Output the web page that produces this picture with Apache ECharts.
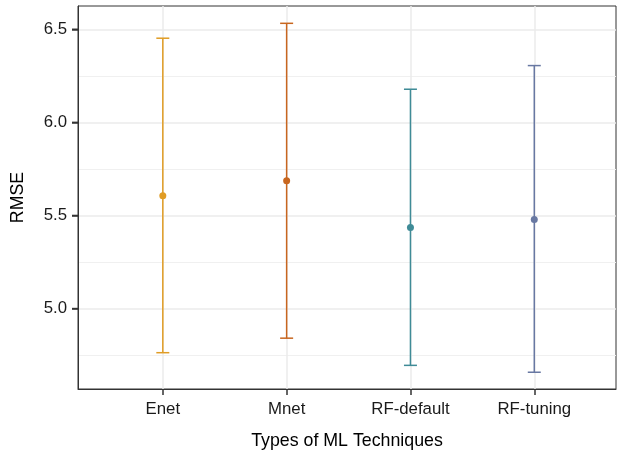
<!DOCTYPE html>
<html>
<head>
<meta charset="utf-8">
<script src="https://cdn.jsdelivr.net/npm/echarts@6/dist/echarts.min.js"></script>
<style>
html,body{margin:0;padding:0;background:#fff;}
#chart{width:617px;height:451px;}
</style>
</head>
<body>
<div id="chart"></div>
<script>
// ---- data ----
const categories = ['Enet', 'Mnet', 'RF-default', 'RF-tuning'];
const meanRMSE  = [5.606, 5.687, 5.435, 5.478];
const lowerRMSE = [4.763, 4.841, 4.695, 4.658];
const upperRMSE = [6.452, 6.532, 6.178, 6.305];
const yTickValues = [5.0, 5.5, 6.0, 6.5];
const yMinorValues = [4.75, 5.25, 5.75, 6.25];
const seriesColors = ['#E09C24', '#C8661F', '#3F8B97', '#6878A2'];

const xIdx = categories.map((c, i) => i);
const font = 'Liberation Sans, Arial, Helvetica, sans-serif';
const tickLen = 6;

const chart = echarts.init(document.getElementById('chart'), null, {renderer: 'canvas'});

const option = {
  animation: false,
  backgroundColor: '#fff',
  grid: {
    left: 78, right: 1, top: 6, bottom: 62,
    containLabel: false,
    outerBoundsMode: 'none',
    show: true, borderColor: '#333333', borderWidth: 1, backgroundColor: 'transparent'
  },
  xAxis: {
    type: 'value',
    min: -0.685, max: 3.66,
    name: 'Types of ML Techniques',
    nameLocation: 'middle',
    nameGap: 43,
    nameTextStyle: {fontFamily: font, fontSize: 17.8, color: '#000'},
    axisLine: {show: true, onZero: false, lineStyle: {color: '#333', width: 1}},
    axisTick: {show: true, length: tickLen, lineStyle: {color: '#333', width: 1.5}, customValues: xIdx},
    axisLabel: {
      customValues: xIdx,
      formatter: v => categories[Math.round(v)],
      fontFamily: font, fontSize: 16.8, color: '#1a1a1a', margin: 12
    },
    splitLine: {show: true, lineStyle: {color: '#EBEBEB', width: 1.5}}
  },
  yAxis: [{
    type: 'value',
    min: 4.568, max: 6.625,
    name: 'RMSE',
    nameLocation: 'middle',
    nameGap: 51,
    nameTextStyle: {fontFamily: font, fontSize: 17.8, color: '#000'},
    axisLine: {show: true, onZero: false, lineStyle: {color: '#333', width: 1}},
    axisTick: {show: true, length: tickLen, lineStyle: {color: '#333', width: 1.5}, customValues: yTickValues},
    axisLabel: {
      customValues: yTickValues,
      formatter: v => v.toFixed(1),
      fontFamily: font, fontSize: 16.8, color: '#1a1a1a', margin: 11
    },
    splitLine: {show: true, lineStyle: {color: '#EBEBEB', width: 1.5}}
  }, {
    type: 'value',
    position: 'left',
    min: 4.568, max: 6.625,
    axisLine: {show: false, onZero: false},
    axisTick: {show: false, customValues: yMinorValues},
    axisLabel: {show: false, customValues: yMinorValues},
    splitLine: {show: true, lineStyle: {color: '#F0F0F0', width: 1}}
  }],
  series: [{
    // y tick marks, drawn through the y scale (guarantees visibility)
    type: 'custom',
    silent: true,
    clip: false,
    z: 5,
    data: yTickValues.map(v => [0, v]),
    renderItem: function (params, api) {
      const y = api.coord([0, api.value(1)])[1];
      const x0 = params.coordSys.x;
      return {type: 'line', shape: {x1: x0 - tickLen, y1: y, x2: x0, y2: y}, style: {stroke: '#333333', lineWidth: 1.5}};
    }
  }, {
    type: 'custom',
    z: 3,
    data: xIdx.map(i => [i, lowerRMSE[i], upperRMSE[i]]),
    renderItem: function (params, api) {
      const x = api.value(0);
      const lo = api.coord([x, api.value(1)]);
      const hi = api.coord([x, api.value(2)]);
      const hw = api.size([0.105, 0])[0] / 2;
      const style = {stroke: seriesColors[params.dataIndex], lineWidth: 1.5, fill: null};
      return {
        type: 'group',
        children: [
          {type: 'line', shape: {x1: lo[0], y1: lo[1], x2: hi[0], y2: hi[1]}, style: style},
          {type: 'line', shape: {x1: hi[0] - hw, y1: hi[1], x2: hi[0] + hw, y2: hi[1]}, style: style},
          {type: 'line', shape: {x1: lo[0] - hw, y1: lo[1], x2: lo[0] + hw, y2: lo[1]}, style: style}
        ]
      };
    }
  }, {
    type: 'scatter',
    z: 4,
    symbol: 'circle',
    symbolSize: 7,
    data: xIdx.map(i => [i, meanRMSE[i]]),
    itemStyle: {color: p => seriesColors[p.dataIndex], opacity: 1}
  }]
};

chart.setOption(option);
</script>
</body>
</html>
